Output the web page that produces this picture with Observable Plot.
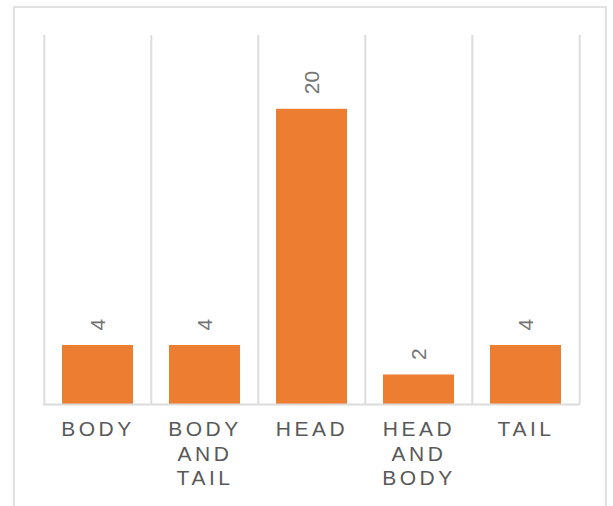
<!DOCTYPE html>
<html>
<head>
<meta charset="utf-8">
<script src="https://cdn.jsdelivr.net/npm/d3@7"></script>
<script src="https://cdn.jsdelivr.net/npm/@observablehq/plot@0.6"></script>
<style>
  html, body { margin: 0; padding: 0; background: #fff; overflow: hidden; }
  #wrap { position: relative; width: 613px; height: 506px; }
  #border {
    position: absolute; left: 13px; top: 6px; width: 594px; height: 560px;
    border: 2px solid #e2e2e2; box-sizing: border-box;
  }
  #chart { position: absolute; left: 0; top: 0; }
  g[aria-label="x-axis tick label"] text { letter-spacing: 3.5px; }
</style>
</head>
<body>
<div id="wrap">
  <div id="border"></div>
  <div id="chart"></div>
</div>
<script>
// Where the injury was located, count of cases per body region
const categories = ["BODY", "BODY\nAND\nTAIL", "HEAD", "HEAD\nAND\nBODY", "TAIL"];
const counts = [4, 4, 20, 2, 4];
const yDomain = [0, 25];

const data = categories.map((c, i) => ({category: c, count: counts[i]}));

const width = 613, height = 506;
const marginLeft = 43, marginRight = 33, marginTop = 35, marginBottom = 102;
const step = (width - marginLeft - marginRight) / categories.length;

const grid = "#dcdcdc";
const textColor = "#595959";
const valueColor = "#747474";
const font = "'Liberation Sans', Arial, sans-serif";

const chart = Plot.plot({
  width, height, marginLeft, marginRight, marginTop, marginBottom,
  style: {fontFamily: font, color: textColor, background: "transparent"},
  x: {domain: categories, padding: 0},
  y: {domain: yDomain, axis: null},
  marks: [
    // vertical separators between categories
    Plot.ruleX(categories, {x: d => d, dx: -step / 2, stroke: grid, strokeWidth: 2}),
    Plot.ruleX(categories.slice(-1), {x: d => d, dx: step / 2, stroke: grid, strokeWidth: 2}),
    Plot.barY(data, {x: "category", y: "count", fill: "#ED7D31", insetLeft: 18, insetRight: 18}),
    Plot.ruleY([0], {stroke: grid, strokeWidth: 2}),
    // value labels, reading upward above each bar
    Plot.text(data, {
      x: "category", y: "count", text: d => String(d.count),
      rotate: -90, textAnchor: "start", lineAnchor: "middle", dy: -15,
      fontSize: 21, fill: valueColor
    }),
    Plot.axisX({tickSize: 0, tickPadding: 14, fontSize: 21, lineHeight: 1.17, label: null})
  ]
});

document.getElementById("chart").appendChild(chart);
</script>
</body>
</html>
